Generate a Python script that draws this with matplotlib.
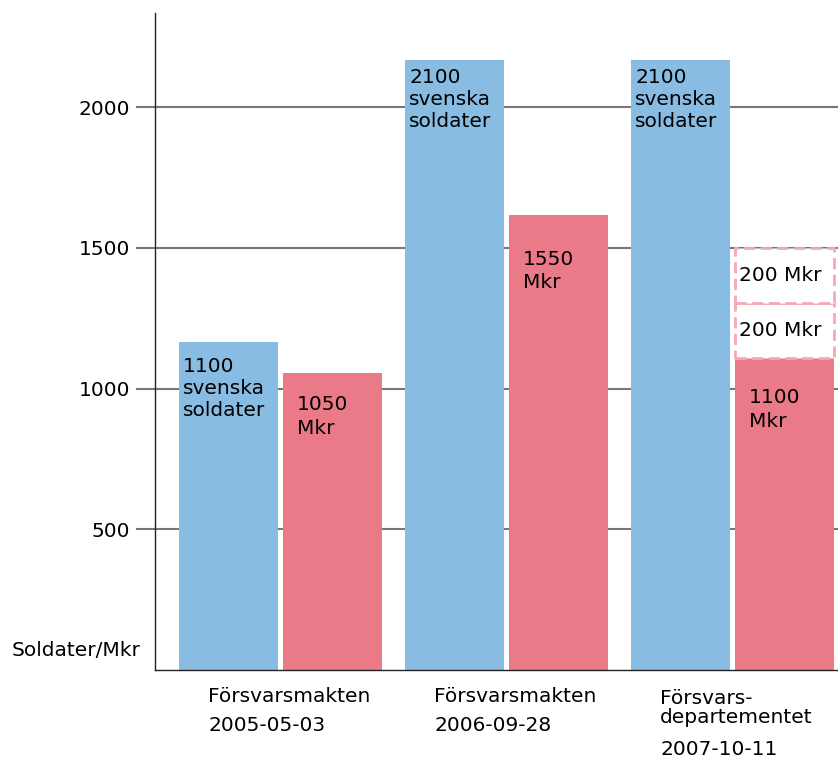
import numpy as np
import matplotlib
matplotlib.use("Agg")
import matplotlib.pyplot as plt
from matplotlib.patches import Rectangle

plt.rcParams['font.family'] = ['DejaVu Sans']

# data
group_names = ["Försvarsmakten", "Försvarsmakten", "Försvars-\ndepartementet"]
group_dates = ["2005-05-03", "2006-09-28", "2007-10-11"]
soldiers = [1165, 2167, 2167]
money = [1055, 1616, 1109]
soldier_labels = ["1100\nsvenska\nsoldater", "2100\nsvenska\nsoldater", "2100\nsvenska\nsoldater"]
money_labels = ["1050\nMkr", "1550\nMkr", "1100\nMkr"]
extra_money = [196, 195]          # dashed, planned additions on last group
extra_labels = ["200 Mkr", "200 Mkr"]
yticks = [500, 1000, 1500, 2000]

blue = "#89bce3"
pink = "#eb7a88"
dash_pink = "#f4a9b3"
fs = 14.5

fig = plt.figure(figsize=(8.38, 7.6), dpi=100)
ax = fig.add_axes([155/838, 90/760, 683/838, 657/760])

x = np.arange(len(group_names))
w = 0.438
off = 0.23

# grid lines that also stick out to the left as ticks
for yt in yticks:
    ax.axhline(yt, xmin=-0.026, xmax=1, color="#777777", lw=1.5, clip_on=False, zorder=0)

ax.bar(x - off, soldiers, width=w, color=blue, zorder=2)
ax.bar(x + off, money, width=w, color=pink, zorder=2)

# stacked dashed boxes on the last group
base = money[-1]
for val, lab in zip(extra_money, extra_labels):
    r = Rectangle((x[-1] + off - w/2, base), w, val, facecolor="white",
                  edgecolor=dash_pink, lw=2, ls=(0, (4, 2)), zorder=3)
    ax.add_patch(r)
    ax.text(x[-1] + off - w/2 + 0.017, base + val/2, lab, fontsize=fs,
            va="center", ha="left", zorder=4)
    base += val

# labels inside bars (offsets in points below bar top)
soldier_off = [-11, -6, -6]
money_off = [-16, -25, -22]
for i in range(len(group_names)):
    ax.annotate(soldier_labels[i], (x[i] - off - w/2, soldiers[i]),
                xytext=(3, soldier_off[i]), textcoords="offset points",
                ha="left", va="top", fontsize=fs, linespacing=1.2, zorder=4)
    ax.annotate(money_labels[i], (x[i] + off - w/2, money[i]),
                xytext=(10, money_off[i]), textcoords="offset points",
                ha="left", va="top", fontsize=fs, linespacing=1.3, zorder=4)

ax.set_xlim(-0.555, 2.467)
ax.set_ylim(0, 2334)

ax.set_yticks(yticks)
ax.set_yticklabels([str(v) for v in yticks], fontsize=fs)
ax.tick_params(axis="y", length=0, pad=18)
ax.set_xticks([])

# category labels: name line(s), then the date a bit further down
name_off = [-12, -12, -14]
date_off = [-33, -33, -50.5]
for i in range(len(group_names)):
    ax.annotate(group_names[i], (x[i] - off - w/2, 0), xytext=(21, name_off[i]),
                textcoords="offset points", ha="left", va="top", fontsize=fs,
                linespacing=1.0, annotation_clip=False)
    ax.annotate(group_dates[i], (x[i] - off - w/2, 0), xytext=(21, date_off[i]),
                textcoords="offset points", ha="left", va="top", fontsize=fs,
                annotation_clip=False)

fig.text(12/838, 1 - 650/760, "Soldater/Mkr", fontsize=fs, ha="left", va="center")

for s in ["top", "right"]:
    ax.spines[s].set_visible(False)
ax.spines["left"].set_color("#222222")
ax.spines["bottom"].set_color("#222222")
ax.spines["left"].set_linewidth(1)
ax.spines["bottom"].set_linewidth(1)

plt.savefig("out.png", dpi=100)
